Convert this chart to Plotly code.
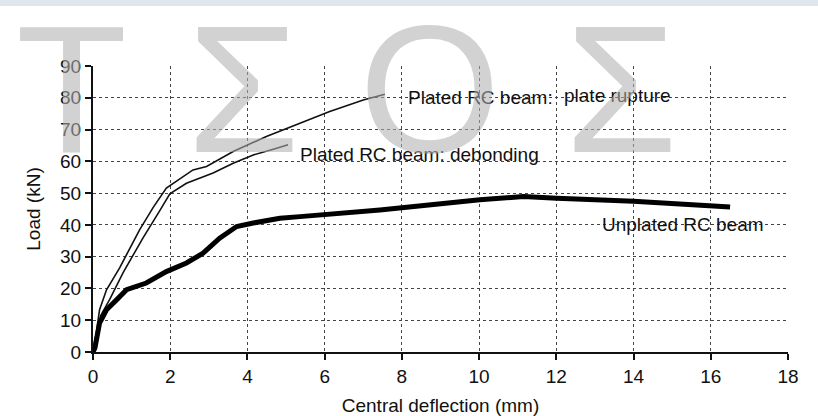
import plotly.graph_objects as go

# ---- data ----
rupture_x = [0, 0.05, 0.17, 0.35, 0.69, 1.21, 1.56, 1.90, 2.59, 2.94, 3.63, 4.49, 5.36, 6.13, 7.0, 7.56]
rupture_y = [0, 3, 13.3, 19.6, 26.5, 38.5, 45.5, 51.6, 57.3, 58.4, 63.1, 67.8, 72.0, 75.7, 79.3, 81.1]

debond_x = [0, 0.05, 0.2, 0.43, 0.78, 1.30, 1.73, 1.99, 2.42, 3.11, 3.63, 4.15, 4.67, 5.05]
debond_y = [0, 4, 11.5, 16.5, 25.0, 36.0, 44.5, 49.8, 53.1, 56.3, 59.4, 62, 63.8, 65.2]

unplated_x = [0, 0.05, 0.17, 0.35, 0.61, 0.87, 1.38, 1.90, 2.42, 2.85, 3.28, 3.72, 4.15, 4.84,
              5.36, 7.43, 10.02, 11.15, 12.01, 14.0, 16.5]
unplated_y = [0, 1.3, 9.1, 13.3, 16.4, 19.6, 21.7, 25.3, 28, 31.1, 35.8, 39.5, 40.6, 42.1,
              42.6, 44.7, 47.9, 48.9, 48.4, 47.4, 45.6]

x_ticks = [0, 2, 4, 6, 8, 10, 12, 14, 16, 18]
y_ticks = [0, 10, 20, 30, 40, 50, 60, 70, 80, 90]

labels = ["Plated RC beam:", "plate rupture", "Plated RC beam: debonding", "Unplated RC beam"]
label_x = [8.1, 12.15, 5.31, 13.13]
label_y = [80.1, 80.6, 62.0, 40.0]

watermark = ["T", "Σ", "O", "Σ"]
# ---------------------------------------

W, H = 818, 416
L, R, T, B = 93, 30, 66, 64
pw, ph = W - L - R, H - T - B

def px(x):
    return (x - L) / pw

def py(y):
    return (H - B - y) / ph

FONT = "Liberation Sans, Arial, sans-serif"

fig = go.Figure()
fig.add_trace(go.Scatter(x=rupture_x, y=rupture_y, mode="lines",
                         line=dict(color="#111111", width=1.6), showlegend=False))
fig.add_trace(go.Scatter(x=debond_x, y=debond_y, mode="lines",
                         line=dict(color="#111111", width=1.6), showlegend=False))
fig.add_trace(go.Scatter(x=unplated_x, y=unplated_y, mode="lines",
                         line=dict(color="#000000", width=5), showlegend=False))

annotations = []
for t, x, y in zip(labels, label_x, label_y):
    annotations.append(dict(x=x, y=y, xref="x", yref="y", text=t, showarrow=False,
                            xanchor="left", yanchor="middle",
                            font=dict(family=FONT, size=19, color="#111111")))

wm_cx = [71, 243, 430, 621]
for t, cx in zip(watermark, wm_cx):
    annotations.append(dict(x=px(cx), y=py(89), xref="paper", yref="paper", text=t,
                            showarrow=False, xanchor="center", yanchor="middle",
                            font=dict(family=FONT, size=182, color="rgba(175,175,175,0.57)")))

fig.update_layout(
    width=W, height=H,
    margin=dict(l=L, r=R, t=T, b=B, autoexpand=False),
    paper_bgcolor="white", plot_bgcolor="white",
    font=dict(family=FONT, size=19, color="#111111"),
    annotations=annotations,
    shapes=[dict(type="rect", xref="paper", yref="paper", x0=px(0), x1=px(W),
                 y0=py(6), y1=py(0), fillcolor="#dfe6ee", line=dict(width=0), layer="above")],
)
fig.update_xaxes(range=[0, 18], tickvals=x_ticks, ticktext=[str(v) for v in x_ticks],
                 showgrid=True, gridcolor="#444444", griddash="dot", gridwidth=1,
                 showline=True, linecolor="#111111", linewidth=2,
                 ticks="outside", ticklen=6, tickwidth=2, tickcolor="#111111",
                 zeroline=False,
                 title=dict(text="Central deflection (mm)", standoff=13,
                            font=dict(family=FONT, size=19)))
fig.update_yaxes(range=[0, 90], tickvals=y_ticks, ticktext=[str(v) for v in y_ticks],
                 showgrid=True, gridcolor="#444444", griddash="dot", gridwidth=1,
                 showline=True, linecolor="#111111", linewidth=2,
                 ticks="outside", ticklen=6, tickwidth=2, tickcolor="#111111",
                 zeroline=False,
                 title=dict(text="Load (kN)", standoff=14,
                            font=dict(family=FONT, size=19)))

fig.write_html("out.html", config={"displayModeBar": False},
               post_script="document.body.style.margin='0';")
